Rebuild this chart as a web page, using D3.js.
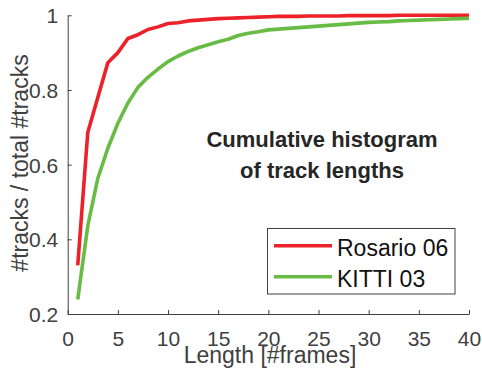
<!DOCTYPE html>
<html><head><meta charset="utf-8">
<script src="https://cdn.jsdelivr.net/npm/d3@7"></script>
<style>body{margin:0;background:#fff}svg{display:block}text{font-family:"Liberation Sans",Arial,sans-serif}</style>
</head><body>
<script>
const lengths = d3.range(1, 41);
const rosario = [0.330,0.686,0.780,0.873,0.900,0.938,0.948,0.962,0.969,0.978,
  0.980,0.985,0.987,0.989,0.991,0.992,0.993,0.994,0.995,0.996,
  0.997,0.997,0.997,0.998,0.998,0.998,0.998,0.999,0.999,0.999,
  0.999,0.999,1.000,1.000,1.000,1.000,1.000,1.000,1.000,1.000];
const kitti = [0.239,0.436,0.563,0.644,0.711,0.765,0.807,0.834,0.856,0.876,
  0.891,0.903,0.913,0.921,0.929,0.936,0.946,0.952,0.956,0.961,
  0.963,0.965,0.967,0.969,0.971,0.973,0.975,0.977,0.979,0.981,
  0.982,0.983,0.985,0.986,0.987,0.988,0.989,0.990,0.991,0.992];
const seriesNames = ["Rosario 06", "KITTI 03"];
const xTicks = [0,5,10,15,20,25,30,35,40];
const yTicks = [0.2,0.4,0.6,0.8,1];
const titleLines = ["Cumulative histogram", "of track lengths"];
const colors = ["#ED2129", "#68BC45"];

const W = 482, H = 370;
const svg = d3.select("body").append("svg").attr("width", W).attr("height", H);
const x = d3.scaleLinear().domain([0, 40]).range([67.7, 469]);
const y = d3.scaleLinear().domain([0.2, 1]).range([314, 15.3]);
const axisColor = "#404040";

// axes
const gx = svg.append("g").attr("transform", `translate(0,${y(0.2)})`)
  .call(d3.axisBottom(x).tickValues(xTicks).tickSizeInner(-4).tickSizeOuter(0).tickPadding(0).tickFormat(d3.format("d")));
const gy = svg.append("g").attr("transform", `translate(${x(0)},0)`)
  .call(d3.axisLeft(y).tickValues(yTicks).tickSizeInner(-4).tickSizeOuter(0).tickPadding(0).tickFormat(d => d === 1 ? "1" : d3.format(".1f")(d)));
[gx, gy].forEach(g => {
  g.select(".domain").attr("stroke", axisColor).attr("stroke-width", 1);
  g.selectAll(".tick line").attr("stroke", axisColor);
  g.selectAll("text").attr("fill", axisColor).attr("font-size", 21).attr("font-family", null);
});
gx.selectAll("text").attr("dy", null).attr("y", 32);
gy.selectAll("text").attr("x", -9.5).attr("dy", "0.36em");

// axis labels
svg.append("text").attr("x", 270).attr("y", 363).attr("text-anchor", "middle")
  .attr("font-size", 23).attr("fill", axisColor).text("Length [#frames]");
svg.append("text").attr("transform", "translate(28,163) rotate(-90)").attr("text-anchor", "middle")
  .attr("font-size", 23).attr("fill", axisColor).text("#tracks / total #tracks");

// lines
const line = d3.line().x((d, i) => x(lengths[i])).y(d => y(d));
[rosario, kitti].forEach((s, k) => {
  svg.append("path").datum(s).attr("d", line).attr("fill", "none")
    .attr("stroke", colors[k]).attr("stroke-width", 3.6).attr("stroke-linejoin", "round");
});

// title
titleLines.forEach((t, i) => {
  svg.append("text").attr("x", 322).attr("y", 146.5 + i * 31.5).attr("text-anchor", "middle")
    .attr("font-size", 22).attr("font-weight", "bold").attr("fill", "#262626").text(t);
});

// legend
const lg = svg.append("g");
lg.append("rect").attr("x", 267.5).attr("y", 228.5).attr("width", 187.5).attr("height", 65.5)
  .attr("fill", "#fff").attr("stroke", axisColor).attr("stroke-width", 1);
seriesNames.forEach((n, i) => {
  const yy = 245.7 + i * 31;
  lg.append("line").attr("x1", 274).attr("x2", 332).attr("y1", yy).attr("y2", yy)
    .attr("stroke", colors[i]).attr("stroke-width", 3.6);
  lg.append("text").attr("x", 337).attr("y", yy + 10).attr("font-size", 23).attr("fill", "#111").text(n);
});
</script>
</body></html>
